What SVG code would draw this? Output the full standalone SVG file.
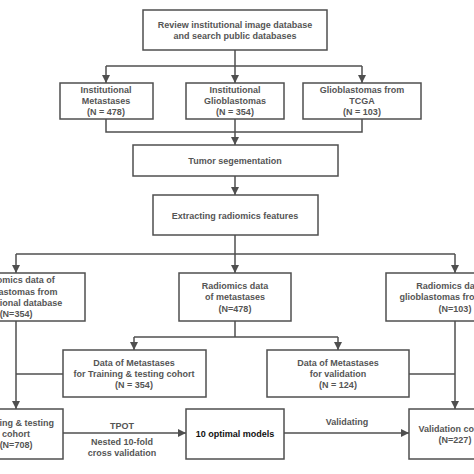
<svg xmlns="http://www.w3.org/2000/svg" width="474" height="474" viewBox="0 0 474 474">
<style>
.box{fill:#fff;stroke:#4f4f4f;stroke-width:1.5}
.t{font-family:"Liberation Sans",Arial,sans-serif;font-weight:bold;font-size:9px;fill:#555;text-anchor:middle}
.k{fill:#111}
.c{fill:none;stroke:#4f4f4f;stroke-width:1.5}
</style>
<defs>
<marker id="ah" markerUnits="userSpaceOnUse" markerWidth="8" markerHeight="8" refX="8" refY="4" orient="auto">
<path d="M0,0 L8,4 L0,8 z" fill="#4f4f4f"/>
</marker>
</defs>
<rect width="474" height="474" fill="#fff"/>
<g id="connectors">
<path class="c" d="M235,50 V83" marker-end="url(#ah)"/>
<path class="c" d="M106,66 H362"/>
<path class="c" d="M106,66 V83" marker-end="url(#ah)"/>
<path class="c" d="M362,66 V83" marker-end="url(#ah)"/>
<path class="c" d="M106,119 V132 H362 V119"/>
<path class="c" d="M235,119 V145" marker-end="url(#ah)"/>
<path class="c" d="M235,176 V195" marker-end="url(#ah)"/>
<path class="c" d="M235,235 V254"/>
<path class="c" d="M16,254 H455"/>
<path class="c" d="M16,254 V273" marker-end="url(#ah)"/>
<path class="c" d="M235,254 V273" marker-end="url(#ah)"/>
<path class="c" d="M455,254 V273" marker-end="url(#ah)"/>
<path class="c" d="M235,321 V337"/>
<path class="c" d="M134,337 H338"/>
<path class="c" d="M134,337 V350" marker-end="url(#ah)"/>
<path class="c" d="M338,337 V350" marker-end="url(#ah)"/>
<path class="c" d="M16,321 V409" marker-end="url(#ah)"/>
<path class="c" d="M63,374 H16"/>
<path class="c" d="M455,321 V409" marker-end="url(#ah)"/>
<path class="c" d="M409,374 H455"/>
<path class="c" d="M63,433 H186" marker-end="url(#ah)"/>
<path class="c" d="M284,433 H409" marker-end="url(#ah)"/>
<text class="t" x="122" y="429">TPOT</text>
<text class="t" x="122" y="445">Nested 10-fold</text>
<text class="t" x="122" y="456">cross validation</text>
<text class="t" x="347" y="425">Validating</text>
</g>
<g id="review">
<rect class="box" x="143" y="10" width="184" height="40"/>
<text class="t" x="235" y="28">Review institutional image database</text>
<text class="t" x="235" y="39">and search public databases</text>
</g>
<g id="inst-met">
<rect class="box" x="60" y="83" width="93" height="36"/>
<text class="t" x="106" y="93">Institutional</text>
<text class="t" x="106" y="104">Metastases</text>
<text class="t" x="106" y="115">(N = 478)</text>
</g>
<g id="inst-gbm">
<rect class="box" x="186" y="83" width="98" height="36"/>
<text class="t" x="235" y="93">Institutional</text>
<text class="t" x="235" y="104">Glioblastomas</text>
<text class="t" x="235" y="115">(N = 354)</text>
</g>
<g id="tcga">
<rect class="box" x="303" y="83" width="118" height="36"/>
<text class="t" x="362" y="93">Glioblastomas from</text>
<text class="t" x="362" y="104">TCGA</text>
<text class="t" x="362" y="115">(N = 103)</text>
</g>
<g id="seg">
<rect class="box" x="133" y="145" width="205" height="31"/>
<text class="t" x="235" y="164">Tumor segementation</text>
</g>
<g id="extract">
<rect class="box" x="153" y="195" width="165" height="40"/>
<text class="t" x="235" y="219">Extracting radiomics features</text>
</g>
<g id="rad-gbm-inst">
<rect class="box" x="-53" y="273" width="138" height="48"/>
<text class="t" x="16" y="283">Radiomics data of</text>
<text class="t" x="16" y="295">glioblastomas from</text>
<text class="t" x="16" y="306">institutional database</text>
<text class="t" x="16" y="317">(N=354)</text>
</g>
<g id="rad-met">
<rect class="box" x="179" y="273" width="112" height="48"/>
<text class="t" x="235" y="289">Radiomics data</text>
<text class="t" x="235" y="300">of metastases</text>
<text class="t" x="235" y="312">(N=478)</text>
</g>
<g id="rad-gbm-tcga">
<rect class="box" x="386" y="273" width="138" height="48"/>
<text class="t" x="455" y="289">Radiomics data of</text>
<text class="t" x="455" y="300">glioblastomas from TCGA</text>
<text class="t" x="455" y="312">(N=103)</text>
</g>
<g id="met-train">
<rect class="box" x="63" y="350" width="143" height="47"/>
<text class="t" x="134" y="366">Data of Metastases</text>
<text class="t" x="134" y="377">for Training &amp; testing cohort</text>
<text class="t" x="134" y="388">(N = 354)</text>
</g>
<g id="met-val">
<rect class="box" x="267" y="350" width="142" height="47"/>
<text class="t" x="338" y="366">Data of Metastases</text>
<text class="t" x="338" y="377">for validation</text>
<text class="t" x="338" y="388">(N = 124)</text>
</g>
<g id="train-cohort">
<rect class="box" x="-31" y="409" width="94" height="50"/>
<text class="t" x="16" y="426">Training &amp; testing</text>
<text class="t" x="16" y="437">cohort</text>
<text class="t" x="16" y="448">(N=708)</text>
</g>
<g id="models">
<rect class="box" x="186" y="409" width="98" height="50"/>
<text class="t k" x="235" y="437">10 optimal models</text>
</g>
<g id="val-cohort">
<rect class="box" x="409" y="409" width="92" height="50"/>
<text class="t" x="455" y="432">Validation cohort</text>
<text class="t" x="455" y="443">(N=227)</text>
</g>
</svg>
